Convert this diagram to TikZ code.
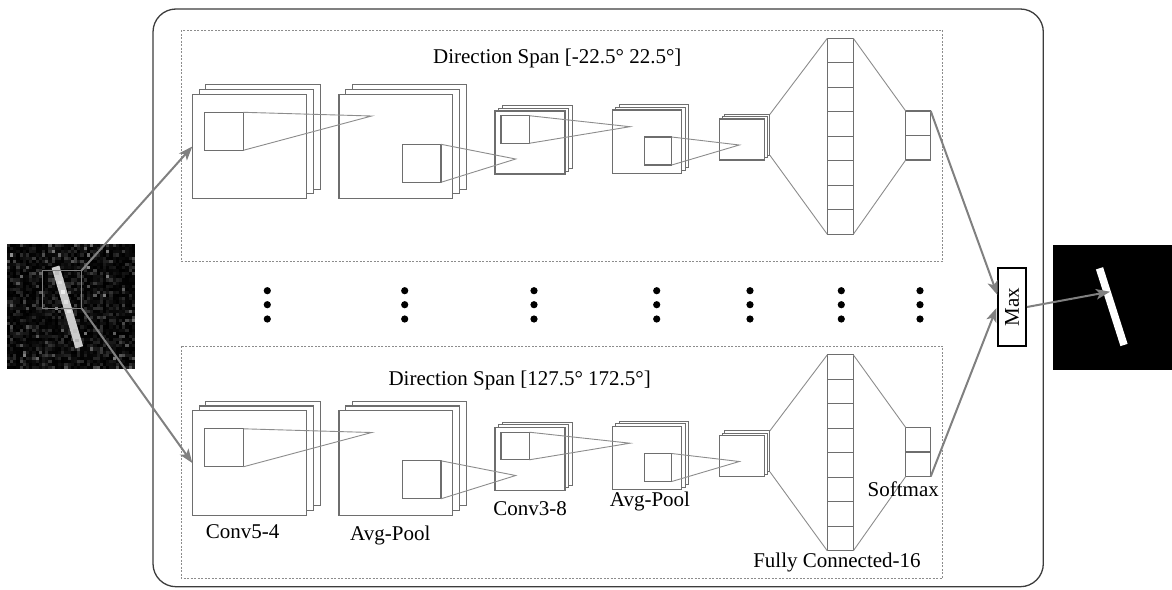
\documentclass[tikz,border=0pt]{standalone}
\usepackage{fontspec}
\setmainfont{Liberation Serif}
\usetikzlibrary{arrows.meta,calc}
\definecolor{laycol}{RGB}{110,110,110}
\definecolor{lincol}{RGB}{140,140,140}
\definecolor{arrcol}{RGB}{128,128,128}
\definecolor{boxcol}{RGB}{60,60,60}
\tikzset{
  lay/.style={draw=laycol, fill=white, line width=1.1pt, inner sep=0pt, outer sep=0pt, anchor=north west},
  conn/.style={draw=lincol, line width=0.9pt},
  bigarrow/.style={draw=arrcol, line width=2pt, -{Stealth[length=14pt,width=10.5pt,inset=3.5pt]}},
  lbl/.style={font=\fontsize{21pt}{25pt}\selectfont, inner sep=0pt, anchor=base},
  dashbox/.style={draw=lincol, line width=1pt, dash pattern=on 2pt off 1.5pt},
  dotmark/.style={fill=black, draw=none},
}
% stack of three feature maps: name, x, y, w, h, dx, dy
\newcommand{\fmstack}[7]{%
  \node[lay, minimum width=#4pt, minimum height=#5pt] (#1-c) at ({#2+2*(#6)}, {#3+2*(#7)}) {};
  \node[lay, minimum width=#4pt, minimum height=#5pt] (#1-b) at ({#2+(#6)}, {#3+(#7)}) {};
  \node[lay, minimum width=#4pt, minimum height=#5pt] (#1) at (#2, #3) {};
}
\newcommand{\branch}[1]{%
  \fmstack{#1-conv1}{192.3}{94.3}{114.4}{104.4}{6.8}{-4.8}
  \node[lay, minimum width=39pt, minimum height=38pt] (#1-sq1) at (204.3,112.3) {};
  \fmstack{#1-pool1}{339}{94.3}{113.7}{104.4}{6.8}{-4.8}
  \coordinate (#1-p1) at (371.7,116);
  \draw[conn] (#1-sq1.north east) -- (#1-p1) -- (#1-sq1.south east);
  \node[lay, minimum width=38.7pt, minimum height=38pt] (#1-sq2) at (402.3,144.3) {};
  \fmstack{#1-conv2}{495}{111}{70}{63}{3.6}{-2.7}
  \coordinate (#1-p2) at (515.7,159);
  \draw[conn] (#1-sq2.north east) -- (#1-p2) -- (#1-sq2.south east);
  \node[lay, minimum width=28.3pt, minimum height=27.6pt] (#1-sq3) at (501,115.7) {};
  \fmstack{#1-pool2}{612.3}{110}{69.4}{63.3}{3.6}{-2.7}
  \coordinate (#1-p3) at (630,126.7);
  \draw[conn] (#1-sq3.north east) -- (#1-p3) -- (#1-sq3.south east);
  \node[lay, minimum width=27.4pt, minimum height=28pt] (#1-sq4) at (644.3,137) {};
  \fmstack{#1-fmap}{719.3}{119}{45}{41}{2.8}{-2.35}
  \coordinate (#1-p4) at (739.3,145);
  \draw[conn] (#1-sq4.north east) -- (#1-p4) -- (#1-sq4.south east);
  \foreach \k in {0,...,7}{
    \node[lay, minimum width=26pt, minimum height=24.5pt] (#1-fc\k) at (827.3,{38.3+\k*24.5}) {};
  }
  \foreach \k in {0,1}{
    \node[lay, minimum width=25pt, minimum height=24.5pt] (#1-sm\k) at (905.7,{111+\k*24.5}) {};
  }
  \draw[conn] (#1-fmap-c.north east) -- (#1-fc0.north west);
  \draw[conn] (#1-fmap-c.south east) -- (#1-fc7.south west);
  \draw[conn] (#1-fc0.north east) -- (#1-sm0.north west);
  \draw[conn] (#1-fc7.south east) -- (#1-sm1.south west);
}
\begin{document}
\begin{tikzpicture}[x=1pt,y=-1pt]
\useasboundingbox (0,0) rectangle (1172,589);
% outer frame
\draw[draw=boxcol, line width=1.3pt, rounded corners=23pt] (153,9) rectangle (1043.3,586.7);
% dashed branch frames
\draw[dashbox] (181,30) rectangle (942.7,261);
\draw[dashbox] (181,346) rectangle (942.7,578);
% titles
\node[lbl] (ttitle) at (557.3,63.5) {Direction Span [-22.5° 22.5°]};
\node[lbl] (btitle) at (519.7,385) {Direction Span [127.5° 172.5°]};
% branches
\begin{scope}
  \branch{t}
\end{scope}
\begin{scope}[yshift=-316.5pt]
  \branch{b}
\end{scope}
% labels
\node[lbl] (l1) at (242.5,538.3) {Conv5-4};
\node[lbl] (l2) at (390.3,540) {Avg-Pool};
\node[lbl] (l3) at (530,515) {Conv3-8};
\node[lbl] (l4) at (650,506.7) {Avg-Pool};
\node[lbl] (l5) at (903.3,496.7) {Softmax};
\node[lbl] (l6) at (837,567.3) {Fully Connected-16};
% dots
\foreach \xx in {267.3,404.7,534,656.7,750,841.3,920}{
  \foreach \yy in {290.7,304.7,319}{
    \fill[dotmark] (\xx,\yy) circle (3.6pt);
  }
}
% input noisy image
\pgfmathsetseed{11}
\fill[black] (6.7,244) rectangle (135,369.3);
\foreach \i in {0,...,39}{
  \foreach \j in {0,...,39}{
    \pgfmathsetmacro\lev{100*rnd*rnd*rnd*0.6}
    \fill[white!\lev!black] ({6.7+\i*3.2075},{244+\j*3.1325}) rectangle ++(3.25,3.18);
  }
}
\draw[white!80!black, line width=8pt] (55.5,266.7) -- (79.3,347.3);
\foreach \s in {0.08,0.2,...,0.95}{
  \pgfmathsetmacro\lv{70+25*rnd}
  \fill[white!\lv!black] ($(55.5,266.7)!\s!(79.3,347.3)+(-2,-2)$) rectangle ++(4,3.5);
}
\node[lay, fill=none, draw=arrcol, line width=1pt, minimum width=39pt, minimum height=38pt] (win) at (42.7,270.3) {};
% output image
\node[fill=black, inner sep=0pt, anchor=north west, minimum width=119.3pt, minimum height=124.3pt] (outimg) at (1052.7,245) {};
\draw[white, line width=7.5pt] (1099.5,268.3) -- (1124,345);
% max node
\node[draw=black, fill=white, line width=1.8pt, rotate=90, inner sep=0pt, minimum width=77.4pt, minimum height=27.7pt, font=\fontsize{21pt}{25pt}\selectfont] (max) at (1012.2,307) {Max};
\coordinate (maxin1) at ($(max.north)+(0,-12)$);
\coordinate (maxin2) at ($(max.north)+(-1,1)$);
\coordinate (outtip) at (1110,291.7);
% arrows
\draw[bigarrow] (win.north east) -- (t-conv1.west);
\draw[bigarrow] (win.south east) -- (b-conv1.west);
\draw[bigarrow] (t-sm0.north east) -- (maxin1);
\draw[bigarrow] (b-sm1.south east) -- (maxin2);
\draw[bigarrow] (max.south) -- (outtip);
\end{tikzpicture}
\end{document}
